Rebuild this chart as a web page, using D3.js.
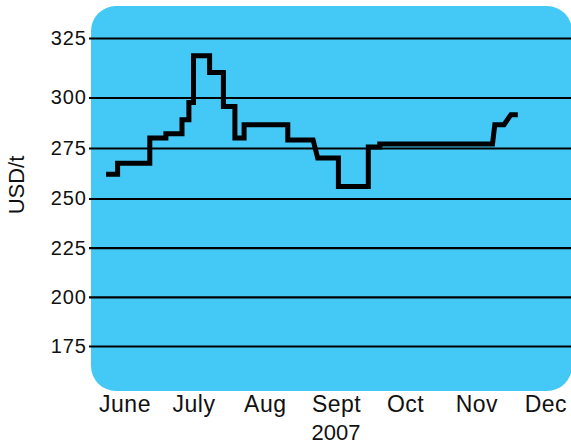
<!DOCTYPE html>
<html>
<head>
<meta charset="utf-8">
<script src="https://cdn.jsdelivr.net/npm/d3@7"></script>
<style>
  html, body { margin: 0; padding: 0; background: #ffffff; }
  svg { display: block; }
  text { font-family: "Liberation Sans", Arial, sans-serif; fill: #111; }
</style>
</head>
<body>
<svg id="chart" width="571" height="446"></svg>
<script>
// Price series, USD per tonne, 2007 (step changes drawn as paired points)
const dates = [
  "2007-06-07", "2007-06-12", "2007-06-12", "2007-06-26", "2007-06-26",
  "2007-07-03", "2007-07-03", "2007-07-10", "2007-07-10", "2007-07-13",
  "2007-07-13", "2007-07-15", "2007-07-15", "2007-07-22", "2007-07-22",
  "2007-07-28", "2007-07-28", "2007-08-02", "2007-08-02", "2007-08-06",
  "2007-08-06", "2007-08-25", "2007-08-25", "2007-09-05", "2007-09-07",
  "2007-09-16", "2007-09-16", "2007-09-29", "2007-09-29", "2007-10-04",
  "2007-10-04", "2007-11-22", "2007-11-23", "2007-11-27", "2007-11-30",
  "2007-12-03"
];
const prices = [
  262, 262, 267.5, 267.5, 280,
  280, 282, 282, 289, 289,
  297.5, 297.5, 317.5, 317.5, 310.5,
  310.5, 295.5, 295.5, 280, 280,
  286.5, 286.5, 279, 279, 270,
  270, 256, 256, 275.5, 275.5,
  277, 277, 286.5, 286.5, 291.5,
  291.5
];

const yTicks = [175, 200, 225, 250, 275, 300, 325];
const monthLabels = ["June", "July", "Aug", "Sept", "Oct", "Nov", "Dec"];
const monthMids = ["2007-06-15", "2007-07-15", "2007-08-15", "2007-09-15",
                   "2007-10-15", "2007-11-15", "2007-12-15"];
const yearLabel = "2007";
const yAxisTitle = "USD/t";

const parse = d3.timeParse("%Y-%m-%d");
const series = dates.map((d, i) => ({ date: parse(d), value: prices[i] }));

const svg = d3.select("#chart");

const x = d3.scaleTime()
  .domain([parse("2007-06-01"), parse("2007-12-31")])
  .range([92.3, 582.2]);

const y = d3.scaleLinear()
  .domain([175, 250, 300, 325])
  .range([346, 198.5, 97.5, 38]);

// Background panel
svg.append("rect")
  .attr("x", 91).attr("y", 6)
  .attr("width", 481).attr("height", 385)
  .attr("rx", 25).attr("ry", 25)
  .attr("fill", "#44C8F5");

// Y axis with full-width gridlines
const yAxis = svg.append("g")
  .attr("transform", "translate(89,0)")
  .call(d3.axisLeft(y).tickValues(yTicks).tickSize(-482).tickPadding(2).tickFormat(d3.format("d")));
yAxis.select(".domain").remove();
yAxis.selectAll(".tick line")
  .attr("stroke", "#000").attr("stroke-width", 2.2);
yAxis.selectAll(".tick text")
  .attr("font-size", 20)
  .attr("letter-spacing", "1px")
  .attr("font-family", "Liberation Sans, Arial, sans-serif")
  .attr("fill", "#111");

// Y axis title
svg.append("text")
  .attr("transform", "translate(24,185) rotate(-90)")
  .attr("text-anchor", "middle")
  .attr("font-size", 22)
  .text(yAxisTitle);

// Month labels
const xAxis = svg.append("g")
  .call(d3.axisBottom(x)
    .tickValues(monthMids.map(parse))
    .tickSize(0)
    .tickFormat((d, i) => monthLabels[i]));
xAxis.select(".domain").remove();
xAxis.selectAll(".tick text")
  .attr("y", 412).attr("dy", 0)
  .attr("font-size", 23)
  .attr("letter-spacing", "0.5px")
  .attr("font-family", "Liberation Sans, Arial, sans-serif")
  .attr("fill", "#111");

svg.append("text")
  .attr("x", x(parse(monthMids[3])))
  .attr("y", 440)
  .attr("text-anchor", "middle")
  .attr("font-size", 22)
  .text(yearLabel);

// Price line
const line = d3.line()
  .x(d => x(d.date))
  .y(d => y(d.value));

svg.append("path")
  .datum(series)
  .attr("d", line)
  .attr("fill", "none")
  .attr("stroke", "#000")
  .attr("stroke-width", 5)
  .attr("stroke-linejoin", "miter")
  .attr("stroke-linecap", "butt");
</script>
</body>
</html>
